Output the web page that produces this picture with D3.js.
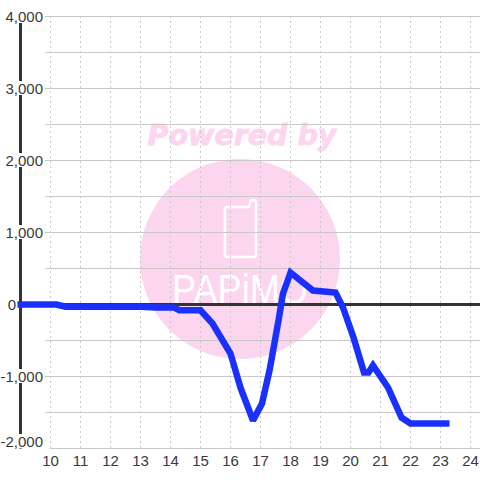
<!DOCTYPE html>
<html>
<head>
<meta charset="utf-8">
<script src="https://cdn.jsdelivr.net/npm/d3@7.9.0/dist/d3.min.js"></script>
<style>
html, body { margin: 0; padding: 0; background: #fff; }
svg { display: block; }
text { font-family: "Liberation Sans", sans-serif; }
</style>
</head>
<body>
<div class="container"></div>
<script>
// values
const hours = [8.9, 10.2, 10.5, 13, 13.5, 14.1, 14.3, 15, 15.4, 16, 16.33, 16.75, 17.05, 17.3, 17.6, 17.75, 18, 18.33, 18.75, 19.5, 19.75, 20.1, 20.45, 20.6, 20.75, 21, 21.25, 21.7, 22, 23.3];
const values = [0, 0, -30, -30, -40, -40, -80, -80, -264, -680, -1153, -1611, -1375, -917, -222, 153, 444, 333, 194, 167, -42, -458, -944, -944, -847, -1000, -1153, -1569, -1653, -1653];
const xTicks = [10, 11, 12, 13, 14, 15, 16, 17, 18, 19, 20, 21, 22, 23, 24];
const yGrid = [4000, 3500, 3000, 2500, 2000, 1500, 1000, 500, 0, -500, -1000, -1500, -2000];
const yLabels = [4000, 3000, 2000, 1000, 0, -1000, -2000];

const width = 480, height = 480;

const svg = d3.select(".container")
    .append("svg")
    .attr("width", width)
    .attr("height", height);

const x = d3.scaleLinear().domain([10, 24]).range([50.5, 470.5]);
const y = d3.scaleLinear().domain([4000, -2000]).range([16.5, 448.5]);

// watermark sits under the grid
const mark = svg.append("g");
mark.append("circle")
    .attr("cx", 240).attr("cy", 259).attr("r", 100)
    .attr("fill", "#fcd6ee");
mark.append("text")
    .attr("x", 242).attr("y", 145)
    .attr("text-anchor", "middle")
    .attr("fill", "#fcd6ee")
    .attr("stroke", "#fcd6ee")
    .attr("stroke-width", 0.8)
    .style("font-family", "DejaVu Sans")
    .style("font-weight", "bold")
    .style("font-style", "italic")
    .style("font-size", "28.5px")
    .text("Powered by");
// phone outline with its little antenna
mark.append("path")
    .attr("d", "M228,207 H249 L250.5,201 Q252,200 254,200 Q256,200 256,203 V254 Q256,257 253,257 H228 Q225,257 225,254 V210 Q225,207 228,207 Z")
    .attr("fill", "none")
    .attr("stroke", "#fff")
    .attr("stroke-width", 2.5);
mark.append("text")
    .attr("x", 240).attr("y", 304)
    .attr("text-anchor", "middle")
    .attr("fill", "#fff")
    .attr("textLength", 136)
    .attr("lengthAdjust", "spacingAndGlyphs")
    .style("font-size", "42px")
    .text("PAPiMO");

// grid
svg.append("g").selectAll("line")
    .data(xTicks)
    .enter().append("line")
    .attr("x1", d => x(d)).attr("x2", d => x(d))
    .attr("y1", 16).attr("y2", 449)
    .attr("stroke", "#c8c8c8")
    .attr("stroke-dasharray", "2,3");

svg.append("g").selectAll("line")
    .data(yGrid)
    .enter().append("line")
    .attr("x1", d => d === -2000 ? 50 : 45).attr("x2", width)
    .attr("y1", d => y(d)).attr("y2", d => y(d))
    .attr("stroke", "#c8c8c8");

// axis lines
svg.append("line")
    .attr("x1", 20.5).attr("x2", 20.5)
    .attr("y1", y(4000)).attr("y2", y(-2000))
    .attr("stroke", "#333")
    .attr("stroke-width", 3);
svg.append("line")
    .attr("x1", 20).attr("x2", width)
    .attr("y1", y(0)).attr("y2", y(0))
    .attr("stroke", "#333")
    .attr("stroke-width", 3);

// y labels have a white box behind them which cuts the axis line
const yLabel = svg.append("g").selectAll("g")
    .data(yLabels)
    .enter().append("g");
const yText = yLabel.append("text")
    .attr("x", d => d === 0 ? 16 : 43)
    .attr("y", d => d === -2000 ? y(d) - 1.5 : y(d) + 5.5)
    .attr("text-anchor", "end")
    .attr("fill", "#3a3a3a")
    .style("font-size", "15px")
    .text(d => d3.format(",")(d).replace("−", "-"));
yText.each(function() {
    const b = this.getBBox();
    d3.select(this.parentNode).insert("rect", "text")
        .attr("x", b.x).attr("y", b.y + 1)
        .attr("width", b.width).attr("height", b.height - 3)
        .attr("fill", "#fff");
});

svg.append("g").selectAll("text")
    .data(xTicks)
    .enter().append("text")
    .attr("x", d => x(d))
    .attr("y", 466)
    .attr("text-anchor", "middle")
    .attr("fill", "#3a3a3a")
    .style("font-size", "15px")
    .text(d => d);

// series
const line = d3.line()
    .x(d => x(d[0]))
    .y(d => y(d[1]));

svg.append("path")
    .datum(d3.zip(hours, values))
    .attr("d", line)
    .attr("fill", "none")
    .attr("stroke", "#1a30ff")
    .attr("stroke-width", 6.5)
    .attr("stroke-linejoin", "miter")
    .attr("stroke-miterlimit", 2);
</script>
</body>
</html>
